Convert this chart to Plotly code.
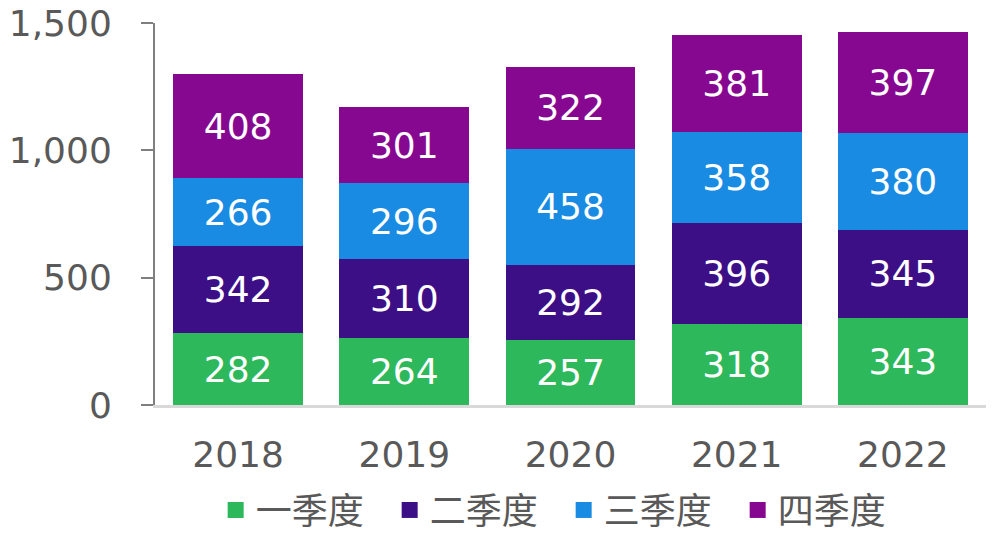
import plotly.graph_objects as go

years = ["2018", "2019", "2020", "2021", "2022"]
q1 = [282, 264, 257, 318, 343]
q2 = [342, 310, 292, 396, 345]
q3 = [266, 296, 458, 358, 380]
q4 = [408, 301, 322, 381, 397]

names = ["一季度", "二季度", "三季度", "四季度"]
colors = ["#2eb85c", "#3d0f87", "#1a8be3", "#870890"]

fig = go.Figure()
for name, vals, c in zip(names, [q1, q2, q3, q4], colors):
    fig.add_trace(go.Bar(
        x=years, y=vals, name=name, showlegend=False,
        marker=dict(color=c, line=dict(width=0)),
        text=vals, texttemplate="%{text}",
        textposition="inside", insidetextanchor="middle",
        textfont=dict(color="white", size=36, family="DejaVu Sans"),
        constraintext="none",
    ))

# legend-only entries so the squares come out bigger than the bar swatches
for name, c in zip(names, colors):
    fig.add_trace(go.Scatter(
        x=[None], y=[None], mode="markers", name=name,
        marker=dict(symbol="square", size=18, color=c),
    ))

# page body has an 8px margin, so the margins are pulled in by 8
fig.update_layout(
    barmode="stack",
    bargap=0.218,
    width=994, height=535,
    margin=dict(l=147, r=16, t=15, b=138, autoexpand=False),
    plot_bgcolor="white", paper_bgcolor="white",
    font=dict(family="DejaVu Sans, Noto Sans CJK SC", size=36, color="#595959"),
    showlegend=True,
    legend=dict(
        orientation="h", x=0.073, xanchor="left", y=-0.275, yanchor="middle",
        font=dict(size=36, color="#595959", family="Noto Sans CJK SC"),
        entrywidth=129, entrywidthmode="pixels",
        traceorder="normal",
    ),
)
fig.update_yaxes(
    range=[0, 1500], tickvals=[0, 500, 1000, 1500], tickformat=",",
    showline=True, linecolor="#7f7f7f", linewidth=2,
    ticks="outside", ticklen=12, tickcolor="#7f7f7f", tickwidth=2,
    showgrid=False, zeroline=False, ticklabelstandoff=22, automargin=False,
    ticklabeloverflow="allow",
)
fig.update_xaxes(
    showline=True, linecolor="#d9d9d9", linewidth=3,
    showgrid=False, ticks="", ticklabelstandoff=16, automargin=False,
)

fig.write_html("out.html")
